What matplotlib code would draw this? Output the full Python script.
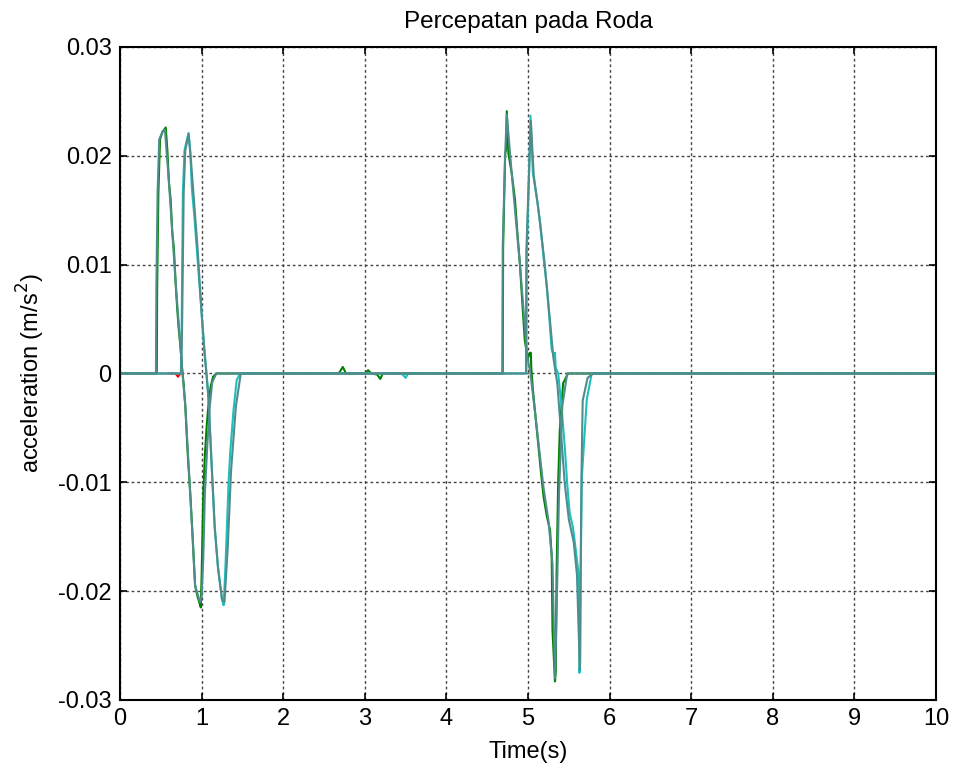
import numpy as np
import matplotlib
matplotlib.use('Agg')
import matplotlib.pyplot as plt

plt.rcParams['font.family'] = ['Liberation Sans', 'DejaVu Sans']

# front wheel (green)
t_green = [0, 0.45, 0.455, 0.47, 0.49, 0.52, 0.56, 0.58, 0.6, 0.62, 0.64, 0.66, 0.68, 0.7,
           0.72, 0.74, 0.76, 0.78, 0.8, 0.83, 0.86, 0.89, 0.92, 0.95, 0.97, 0.99, 1.0, 1.02,
           1.04, 1.06, 1.08, 1.11, 1.14, 1.18, 2.68, 2.73, 2.77, 3.0, 3.04, 3.08, 3.15, 3.19,
           3.22, 4.69, 4.695, 4.72, 4.73, 4.74, 4.76, 4.8, 4.84, 4.87, 4.9, 4.93, 4.96, 4.99,
           5.0, 5.02, 5.035, 5.04, 5.06, 5.12, 5.16, 5.19, 5.23, 5.27, 5.29, 5.30, 5.33, 5.34,
           5.35, 5.37, 5.39, 5.43, 5.49, 10]
a_green = [0, 0, 0.0079, 0.0166, 0.0215, 0.0222, 0.0226, 0.0205, 0.0175, 0.016, 0.013, 0.0115,
           0.0085, 0.006, 0.004, 0.0025, 0.0005, -0.001, -0.003, -0.0075, -0.011, -0.015,
           -0.0195, -0.0205, -0.021, -0.0215, -0.0185, -0.011, -0.0075, -0.005, -0.0032,
           -0.0012, -0.0003, 0, 0, 0.0006, 0, 0, 0.0003, 0, -0.0001, -0.0005, 0, 0, 0.0116,
           0.0202, 0.0205, 0.0241, 0.0202, 0.0184, 0.016, 0.0129, 0.0101, 0.0065, 0.0031,
           0.0016, 0.0014, 0.0019, 0.0019, 0.0005, -0.0015, -0.0061, -0.0092, -0.0113, -0.0131,
           -0.0144, -0.0168, -0.0236, -0.0283, -0.0275, -0.0184, -0.0098, -0.0051, -0.0009, 0, 0]

# rear wheel (cyan)
t_cyan = [0, 0.745, 0.755, 0.77, 0.79, 0.82, 0.84, 0.86, 0.88, 0.91, 0.94, 0.97, 1.0, 1.03,
          1.06, 1.09, 1.12, 1.16, 1.2, 1.25, 1.27, 1.29, 1.31, 1.33, 1.35, 1.39, 1.43, 1.47,
          3.45, 3.5, 3.53, 4.98, 4.985, 5.02, 5.03, 5.06, 5.11, 5.15, 5.19, 5.23, 5.26, 5.29,
          5.32, 5.33, 5.34, 5.37, 5.41, 5.45, 5.48, 5.51, 5.55, 5.59, 5.62, 5.63, 5.64, 5.645,
          5.66, 5.72, 5.78, 10]
a_cyan = [0, 0, 0.004, 0.0166, 0.0205, 0.0215, 0.0221, 0.0205, 0.017, 0.0145, 0.0115, 0.0085,
          0.0055, 0.0025, 0.0, -0.003, -0.008, -0.0141, -0.0178, -0.0208, -0.0213, -0.018,
          -0.0141, -0.01, -0.0073, -0.0034, -0.0006, 0, 0, -0.0004, 0, 0, 0.0113, 0.0202,
          0.0237, 0.0184, 0.016, 0.0138, 0.0107, 0.008, 0.0052, 0.0022, 0.0015, 0.0019, 0.0005,
          0, -0.003, -0.0067, -0.0101, -0.0128, -0.0141, -0.0165, -0.0184, -0.0275, -0.0265,
          -0.0184, -0.0095, -0.0024, 0, 0]

# second front wheel (teal)
t_teal_f = [0, 0.44, 0.445, 0.46, 0.48, 0.52, 0.55, 0.6, 0.68, 0.76, 0.8, 0.86, 0.92, 0.98,
            1.0, 1.02, 1.04, 1.07, 1.1, 1.13, 1.18, 4.685, 4.69, 4.72, 4.74, 4.8, 4.9, 4.99,
            5.03, 5.1, 5.19, 5.25, 5.3, 5.33, 5.35, 5.38, 5.42, 5.48, 10]
a_teal_f = [0, 0, 0.0079, 0.0166, 0.0215, 0.0222, 0.0224, 0.0175, 0.0085, 0.0005, -0.003,
            -0.011, -0.0195, -0.021, -0.0205, -0.017, -0.011, -0.0065, -0.003, -0.0008, 0, 0,
            0.0116, 0.0202, 0.0238, 0.0184, 0.0101, 0.0016, 0.0, -0.0045, -0.0105, -0.0135,
            -0.0175, -0.028, -0.022, -0.011, -0.003, 0, 0]

# second rear wheel (teal)
t_teal_r = [0, 0.75, 0.76, 0.78, 0.8, 0.84, 0.87, 0.9, 0.95, 1.0, 1.04, 1.08, 1.12, 1.16, 1.2,
            1.25, 1.28, 1.32, 1.36, 1.42, 1.48, 4.975, 4.98, 5.02, 5.035, 5.07, 5.12, 5.2, 5.27,
            5.31, 5.36, 5.4, 5.45, 5.5, 5.56, 5.6, 5.635, 5.645, 5.655, 5.67, 5.73, 5.8, 10]
a_teal_r = [0, 0, 0.004, 0.0166, 0.0205, 0.022, 0.0195, 0.0165, 0.0115, 0.0055, 0.0015,
            -0.0018, -0.008, -0.0141, -0.0178, -0.0208, -0.021, -0.016, -0.009, -0.003, 0, 0,
            0.0113, 0.0202, 0.0232, 0.0182, 0.0155, 0.0104, 0.0048, 0.0015, -0.001, -0.005,
            -0.0101, -0.0134, -0.0155, -0.0185, -0.0272, -0.0184, -0.0094, -0.0025, -0.0004, 0, 0]

# red trace, only a tiny piece shows
t_red = [0.6, 0.68, 0.71, 0.74]
a_red = [0, 0, -0.0003, 0]

xticks = np.arange(0, 11, 1)
yticks = [-0.03, -0.02, -0.01, 0, 0.01, 0.02, 0.03]
ytick_labels = ['-0.03', '-0.02', '-0.01', '0', '0.01', '0.02', '0.03']

fig = plt.figure(figsize=(9.55, 7.75), dpi=100)
ax = fig.add_axes([0.1257, 0.0968, 0.8544, 0.8426])

lw = 1.5
ax.plot(t_red, a_red, color='red', linewidth=lw)
ax.plot(t_green, a_green, color='#008000', linewidth=lw)
ax.plot(t_cyan, a_cyan, color='#1fbfbf', linewidth=lw)
ax.plot(t_teal_r, a_teal_r, color='#4f8c8c', linewidth=lw)
ax.plot(t_teal_f, a_teal_f, color='#4f8c8c', linewidth=lw)

ax.set_xlim(0, 10)
ax.set_ylim(-0.03, 0.03)
ax.set_xticks(xticks)
ax.set_yticks(yticks)
ax.set_yticklabels(ytick_labels)
ax.tick_params(direction='in', top=True, right=True, length=5, width=1.2,
               labelsize=17, pad=6)
ax.grid(True, linestyle=(0, (2, 2)), color='#444444', linewidth=1.0)
for s in ax.spines.values():
    s.set_linewidth(1.5)

ax.set_title('Percepatan pada Roda', fontsize=17.5, pad=14)
ax.set_xlabel('Time(s)', fontsize=17, labelpad=8)
ax.set_ylabel('acceleration (m/s$^2$)', fontsize=17, labelpad=8)

plt.savefig('out.png', dpi=100)
